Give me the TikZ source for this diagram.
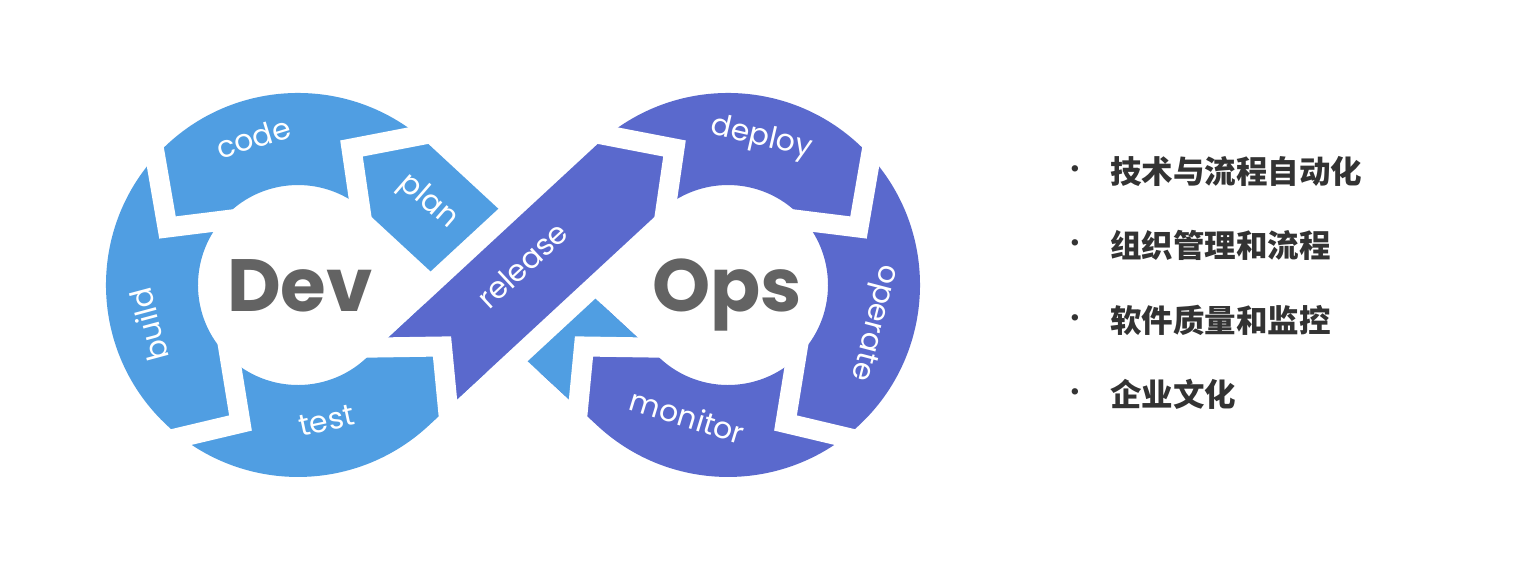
\documentclass[tikz,border=0pt]{standalone}
\usepackage{fontspec}
\setmainfont{Poppins}
\newfontfamily\cjk{Noto Sans CJK SC}
\usetikzlibrary{calc}
\definecolor{devblue}{HTML}{509EE2}
\definecolor{opsblue}{HTML}{5A69CD}
\definecolor{hubgrey}{HTML}{636363}
\definecolor{listgrey}{HTML}{333333}

\begin{document}
\begin{tikzpicture}[x=1pt,y=1pt,
    seglabel/.style={text=white,font=\fontsize{30}{30}\selectfont,inner sep=0pt,text height=0.75em,text depth=0.2em},
    hub/.style={text=hubgrey,font=\fontsize{74}{74}\selectfont\bfseries,inner sep=0pt,anchor=base},
    gap/.style={white,line width=20pt,line join=miter},
    item/.style={text=listgrey,font=\cjk\bfseries\fontsize{31.5}{31.5}\selectfont,inner sep=0pt,anchor=west},
    dot/.style={text=listgrey,font=\fontsize{26}{26}\selectfont,inner sep=0pt}]
  \useasboundingbox[fill=white] (-513,-285) rectangle (1013,285);
  \coordinate (dev) at (-215,0);
  \coordinate (ops) at (215,0);
  % dev loop, running on into the plan band
  \fill[devblue] (-14.68,76.27) -- (-84.65,140.97)
    arc[start angle=47.23,end angle=312.77,radius=192]
    -- (-25.91,-86.66) -- (-88.37,-19.11) -- (-147.11,-73.42)
    arc[start angle=312.77,end angle=47.23,radius=100]
    -- (-82.44,13.62) -- cycle;
  % ops loop
  \fill[opsblue] (84.65,140.97)
    arc[start angle=132.77,end angle=-132.77,radius=192]
    -- (25.91,-86.66) -- (88.37,-19.11) -- (147.11,-73.42)
    arc[start angle=-132.77,end angle=132.77,radius=100] -- cycle;
  % release band lies over the crossing
  \fill[opsblue] (-135.3,-62.5) -- (-71,-61.5) -- (-65.1,-122.9)
    -- (147.11,73.42) -- (131.26,119.6) -- (84.65,140.97) -- cycle;
  % start of plan, below the crossing
  \fill[devblue] (14.68,-76.27) -- (82.44,-13.62) -- (135.3,-62.5)
    -- (71,-61.5) -- (65.1,-122.9) -- cycle;
  % gaps between the segments
  \draw[gap] (-150.1,58.2) -- (-161.5,136.5) -- (-79.4,152.3);
  \draw[gap] (-361.4,149.7) -- (-345.5,57.5) -- (-273.2,66.5);
  \draw[gap] (-285.7,-56.8) -- (-272.5,-138) -- (-353,-157.1);
  \draw[gap] (-155.3,-62.8) -- (-71,-61.5) -- (-63.2,-142.8);
  \draw[gap] (150.1,58.2) -- (161.5,136.5) -- (79.4,152.3);
  \draw[gap] (361.4,149.7) -- (345.5,57.5) -- (273.2,66.5);
  \draw[gap] (285.7,-56.8) -- (272.5,-138) -- (353,-157.1);
  \draw[gap] (155.3,-62.8) -- (71,-61.5) -- (63.2,-142.8);
  % labels
  \node[hub] (devtitle) at (-213,-27) {Dev};
  \node[hub] (opstitle) at (214,-27) {Ops};
  \node[seglabel,rotate=17] (code) at ($(dev)+(106.8:146)$) {code};
  \node[seglabel,rotate=-41] (plan) at (-88,80) {plan};
  \node[seglabel,rotate=105] (build) at ($(dev)+(194.9:146)$) {build};
  \node[seglabel,rotate=12] (test) at ($(dev)+(-78.1:146)$) {test};
  \node[seglabel,rotate=43] (release) at (15,14) {release};
  \node[seglabel,rotate=-13] (deploy) at ($(ops)+(77.1:146)$) {deploy};
  \node[seglabel,rotate=-104.6] (operate) at ($(ops)+(-14.6:146)$) {operate};
  \node[seglabel,rotate=-17] (monitor) at ($(ops)+(-107.1:146)$) {monitor};
  % list on the right
  \foreach \txt [count=\i] in {技术与流程自动化,组织管理和流程,软件质量和监控,企业文化}{
    \node[item] (item\i) at (597,{113.5-74.3*(\i-1)}) {\txt};
    \node[dot] (dot\i) at (562,{113.5-74.3*(\i-1)}) {\textbullet};
  }
\end{tikzpicture}
\end{document}
